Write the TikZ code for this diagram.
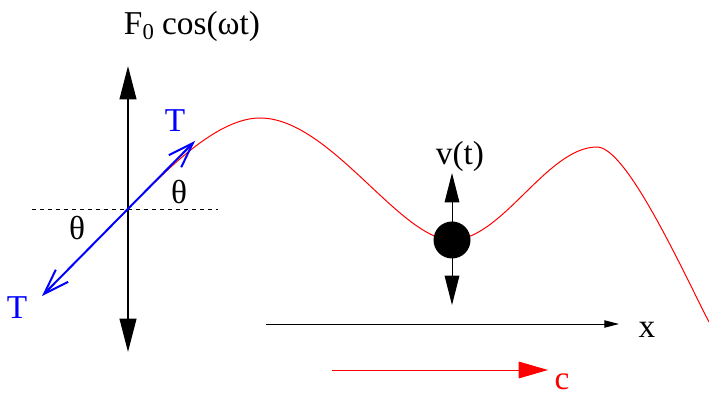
\documentclass[tikz,border=0pt]{standalone}
\usepackage{fontspec}
\setmainfont{Liberation Serif}
\usetikzlibrary{arrows.meta}

\begin{document}
\begin{tikzpicture}[x=0.75pt, y=0.75pt, >=Latex,
    lbl/.style={font=\fontsize{25}{30}\selectfont, inner sep=0pt, anchor=base},
    bighead/.style={{Triangle[length=25pt, width=12.5pt]}-{Triangle[length=25pt, width=12.5pt]}, line width=1.5pt},
    smallhead/.style={{Triangle[length=22pt, width=11pt]}-{Triangle[length=22pt, width=11pt]}, line width=0.75pt},
    pullforce/.style={blue, line width=1.5pt, {Straight Barb[length=19pt, width=13pt]}-{Straight Barb[length=19pt, width=13pt]}}]
    \useasboundingbox (0,0) rectangle (709,396);
    % end points
    \coordinate (ftop) at (128,330);
    \coordinate (fbot) at (128,44);
    \coordinate (hl) at (32,187);
    \coordinate (hr) at (218,187);
    \coordinate (tlow) at (42,100);
    \coordinate (tup) at (195,255);
    \coordinate (vup) at (452,223);
    \coordinate (vdown) at (452,91);
    \coordinate (xa) at (266,72);
    \coordinate (xb) at (619,72);
    \coordinate (ca) at (332,26);
    \coordinate (cb) at (548,26);
    % string
    \draw[dashed, dash pattern=on 3pt off 3pt, line width=0.6pt] (hl) -- (hr);
    \draw[bighead] (fbot) -- (ftop);
    \draw[red, line width=0.75pt] (150,209) .. controls (185,244) and (225,278) .. (260,278)
        .. controls (330,278) and (400,156) .. (452,156)
        .. controls (502,156) and (547,249) .. (597,249)
        .. controls (627,249) and (684,122) .. (709,74);
    \draw[pullforce] (tlow) -- (tup);
    \node[circle, fill, minimum size=27.75pt, inner sep=0pt] (ball) at (452,156) {};
    \draw[smallhead] (vdown) -- (vup);
    \draw[line width=0.75pt, -{Triangle[length=11pt, width=5.5pt]}] (xa) -- (xb);
    \draw[red, line width=0.75pt, -{Triangle[length=22pt, width=12.5pt]}] (ca) -- (cb);
    % labels
    \node[lbl] (force) at (192,361) {F{\raisebox{-0.3ex}{\fontsize{17}{17}\selectfont 0}} cos(ωt)};
    \node[lbl, blue] (tuplbl) at (175,264) {T};
    \node[lbl, blue] (tlowlbl) at (17,78) {T};
    \node[lbl] (thup) at (179,192) {θ};
    \node[lbl] (thlow) at (77,156) {θ};
    \node[lbl] (vlbl) at (460,231) {v(t)};
    \node[lbl] (xlbl) at (647,59) {x};
    \node[lbl, red] (clbl) at (562,7) {c};
\end{tikzpicture}
\end{document}
